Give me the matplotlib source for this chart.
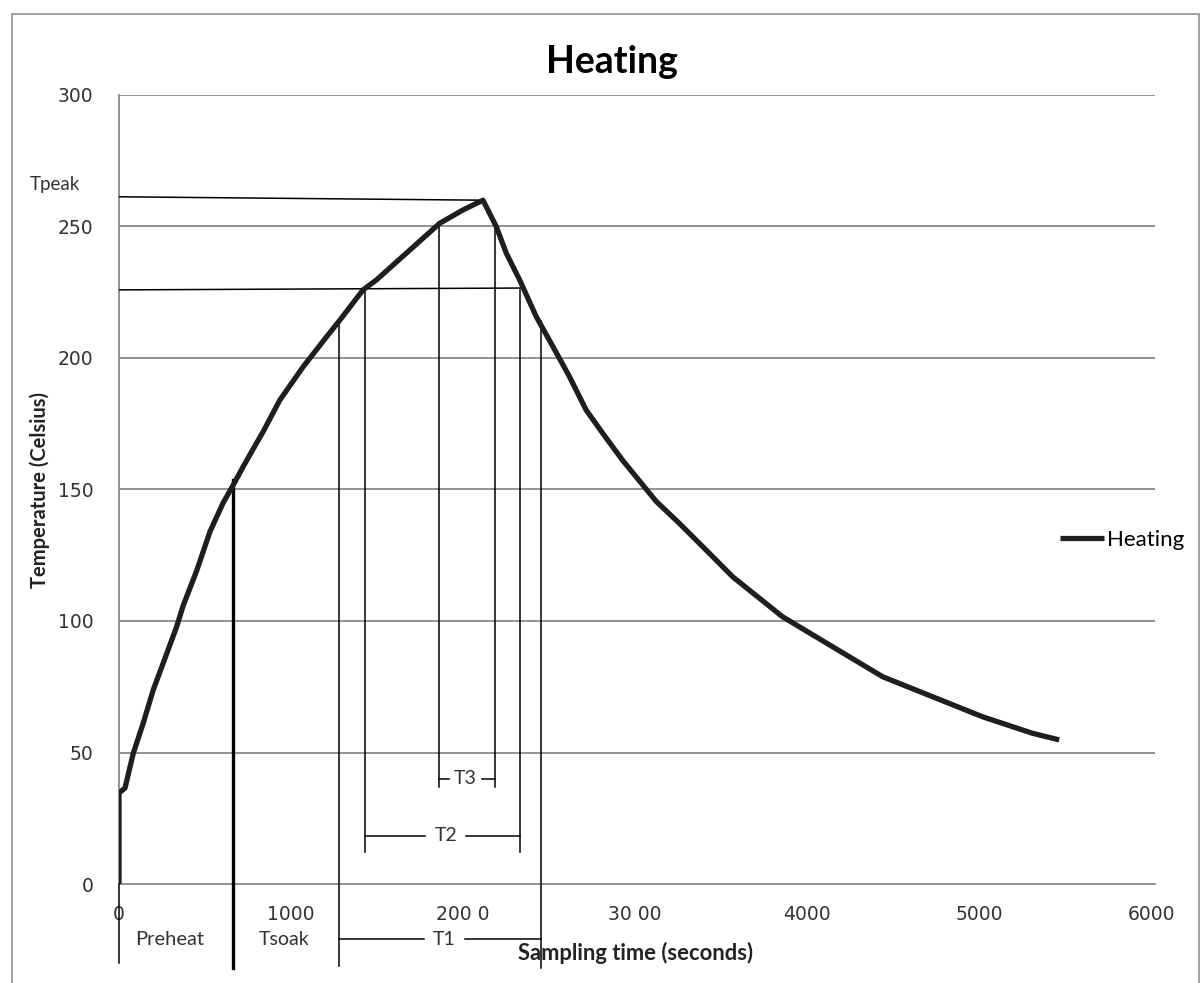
import numpy as np
import matplotlib

matplotlib.use("Agg")
from matplotlib import pyplot as plt
from matplotlib.patches import Rectangle

# curve (seconds, Celsius)
time_s = [0, 0, 35, 83, 141, 199, 257, 335, 374, 451, 529, 606, 654, 722, 800,
          838, 935, 1071, 1206, 1284, 1419, 1497, 1690, 1864, 2000, 2116, 2193,
          2252, 2329, 2426, 2523, 2619, 2716, 2813, 2929, 3123, 3258, 3413,
          3568, 3858, 4149, 4440, 4730, 5020, 5311, 5466]
temp_c = [0, 34.6, 36.5, 49.7, 61.2, 73.8, 84, 97.8, 106, 119, 134, 145, 150.5,
          158.7, 167.7, 172, 184, 196.7, 208, 214.4, 225.9, 229.7, 241, 251.2,
          256.3, 260, 250, 239.8, 229.7, 215.7, 204.3, 192.9, 180.2, 171.3, 161,
          145.5, 137.1, 127, 116.8, 101.6, 90.2, 78.8, 71.2, 63.6, 57.3, 54.8]

# vertical markers: (time, top temperature, bottom temperature)
markers = [(0, 0, -30), (1278, 214, -31), (1429, 226, 12), (1859, 251, 37),
           (2184, 250, 37), (2333, 226, 12), (2451, 214, -32)]
preheat_end = (664, 153.5, -32)

# interval brackets: (label, start, end, level, label position)
brackets = [("T3", 1859, 2184, 40, 2015),
            ("T2", 1429, 2333, 18.3, 1899),
            ("T1", 1278, 2451, -21, 1893)]

y_ticks = [0, 50, 100, 150, 200, 250, 300]
x_ticks = [0, 1000, 2000, 3000, 4000, 5000, 6000]
x_ticklabels = ["0", "1000", "200 0", "30 00", "4000", "5000", "6000"]

fig = plt.figure(figsize=(12.03, 9.83), dpi=100)
ax = fig.add_axes([119 / 1203, 1 - 884 / 983, (1155 - 119) / 1203, (884 - 95) / 983])

grid_col = "#8a8a8a"
for yv in y_ticks[1:]:
    ax.axhline(yv, color=grid_col, lw=1.3, zorder=1)

for s in ["top", "right"]:
    ax.spines[s].set_visible(False)
for s in ["left", "bottom"]:
    ax.spines[s].set_color(grid_col)
    ax.spines[s].set_linewidth(1.3)

ax.plot(time_s, temp_c, color="#1e1e1e", lw=3.8, solid_capstyle="butt",
        solid_joinstyle="round", zorder=5, label="Heating")

# horizontal reference lines (Tpeak and soak level)
ax.plot([0, 2116], [261.3, 260], color="black", lw=1.1, zorder=3)
ax.plot([0, 2333], [225.9, 226.6], color="black", lw=1.1, zorder=3)

for t, top, bot in markers:
    ax.plot([t, t], [top, bot], color="black", lw=1.1, clip_on=False, zorder=3)
ax.plot([preheat_end[0]] * 2, preheat_end[1:], color="black", lw=2.4,
        clip_on=False, zorder=3)

for lab, a, b, lev, pos in brackets:
    gap = 95 if lab == "T3" else 120
    ax.plot([a, pos - gap], [lev, lev], color="black", lw=1.1, clip_on=False)
    ax.plot([pos + gap, b], [lev, lev], color="black", lw=1.1, clip_on=False)
    ax.text(pos, lev, lab, ha="center", va="center", fontsize=14,
            family="Lato", color="#333333", clip_on=False)

ax.text(296, -21, "Preheat", ha="center", va="center", fontsize=14.5,
        family="Lato", color="#333333", clip_on=False)
ax.text(958, -21, "Tsoak", ha="center", va="center", fontsize=14,
        family="Lato", color="#333333", clip_on=False)
ax.text(-372, 266, "Tpeak", ha="center", va="center", fontsize=13.5,
        family="Lato", color="#333333", clip_on=False)

ax.set_xlim(0, 6023)
ax.set_ylim(0, 300)
ax.set_yticks(y_ticks)
ax.set_xticks(x_ticks)
ax.set_xticklabels(x_ticklabels)
ax.tick_params(length=0, labelsize=13.5, labelcolor="#333333")
ax.tick_params(axis="y", pad=18.5)
ax.tick_params(axis="x", pad=15)

fig.text(612 / 1203, 1 - 62 / 983, "Heating", ha="center", va="center",
         fontsize=27, fontweight="bold", family="Lato")
fig.text(40 / 1203, 1 - 490 / 983, "Temperature (Celsius)", ha="center",
         va="center", rotation=90, fontsize=14.5, fontweight="bold",
         family="Lato", color="#222222")
fig.text(636 / 1203, 1 - 953 / 983, "Sampling time (seconds)", ha="center",
         va="center", fontsize=15.8, fontweight="bold", family="Lato",
         color="#222222")

ax.legend(loc="center left", bbox_to_anchor=(1060 / 1203, 1 - 540 / 983),
          bbox_transform=fig.transFigure, frameon=False, borderpad=0,
          borderaxespad=0, handlelength=2.0, handletextpad=0.1,
          prop={"family": "Lato", "size": 16})

fig.patches.append(Rectangle((12 / 1203, -0.01), 1187 / 1203, 1 - 14 / 983 + 0.01,
                             transform=fig.transFigure, fill=False,
                             edgecolor="#9a9a9a", lw=1.3))

fig.savefig("out.png", dpi=100)
